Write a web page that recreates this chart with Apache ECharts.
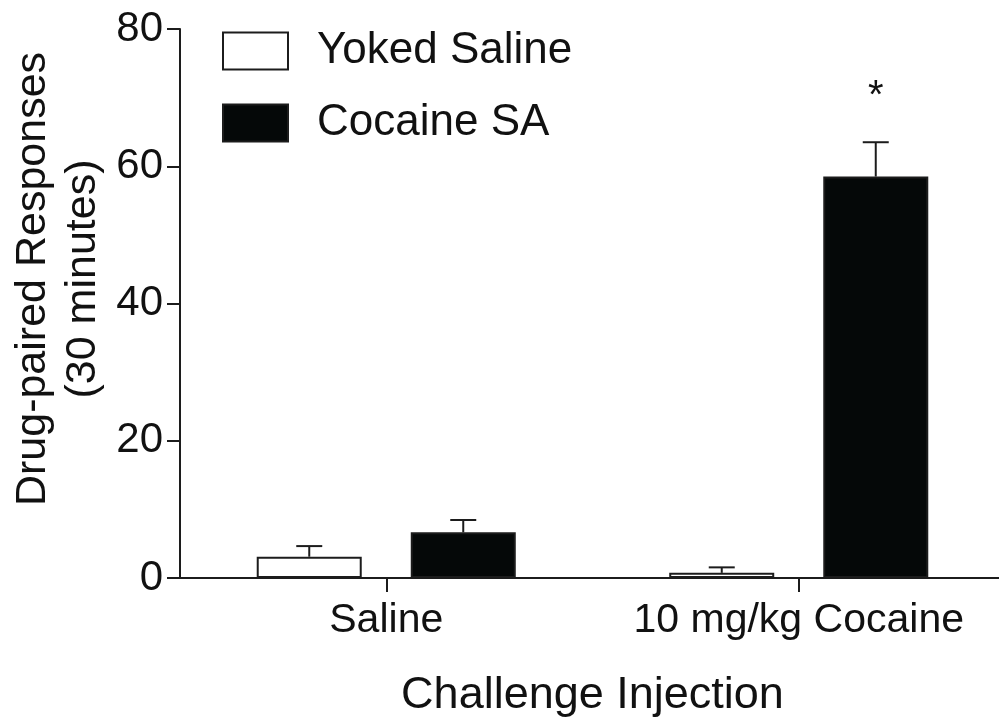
<!DOCTYPE html>
<html>
<head>
<meta charset="utf-8">
<script src="https://cdn.jsdelivr.net/npm/echarts@6/dist/echarts.min.js"></script>
<style>html,body{margin:0;padding:0;background:#fff}#c{width:999px;height:717px}</style>
</head>
<body>
<div id="c"></div>
<script>
// ---- data ----
var categories = ['Saline', '10 mg/kg Cocaine'];
var seriesNames = ['Yoked Saline', 'Cocaine SA'];
var yokedMeans = [3.1, 0.75];
var yokedSEM = [1.55, 0.8];
var cocaineMeans = [6.65, 58.5];
var cocaineSEM = [1.8, 5.0];
var significance = ['', '*'];
var yTicks = [0, 20, 40, 60, 80];

// ---- style constants ----
var FONT = '"Liberation Sans", Arial, Helvetica, sans-serif';
var INK = '#111111';
var LINE = '#1c1c1c';
var BAR_W = 105;
var BAR_GAP = 49;
var CAP_W = 26;

var chart = echarts.init(document.getElementById('c'), null, {renderer: 'canvas'});

function errorSeries(name, means, sems, sign, marks) {
  return {
    type: 'custom',
    name: name + ' SEM',
    z: 5,
    silent: true,
    data: means.map(function (m, i) { return [i, m, sems[i]]; }),
    renderItem: function (params, api) {
      var idx = api.value(0);
      var mean = api.value(1);
      var sem = api.value(2);
      var base = api.coord([idx, mean]);
      var top = api.coord([idx, mean + sem]);
      var off = sign * (BAR_W + BAR_GAP) / 2;
      var x = base[0] + off;
      var children = [
        {type: 'line', shape: {x1: x, y1: base[1], x2: x, y2: top[1]}, style: {stroke: LINE, lineWidth: 2}},
        {type: 'line', shape: {x1: x - CAP_W / 2, y1: top[1], x2: x + CAP_W / 2, y2: top[1]}, style: {stroke: LINE, lineWidth: 2}}
      ];
      var mark = marks ? marks[idx] : '';
      if (mark) {
        children.push({
          type: 'text',
          style: {text: mark, x: x, y: top[1] - 45, align: 'center', verticalAlign: 'middle',
                  font: '40px ' + FONT, fill: INK}
        });
      }
      return {type: 'group', children: children};
    }
  };
}

var option = {
  animation: false,
  backgroundColor: '#ffffff',
  grid: {left: 180, right: -6, top: 29, bottom: 139, containLabel: false, outerBoundsMode: 'none'},
  legend: {
    orient: 'vertical',
    left: 217,
    top: 24,
    itemWidth: 65,
    itemHeight: 37,
    itemGap: 28,
    icon: 'rect',
    data: seriesNames,
    textStyle: {fontFamily: FONT, fontSize: 44, color: INK, lineHeight: 37, padding: [0, 0, 0, 24]}
  },
  xAxis: {
    type: 'category',
    data: categories,
    name: 'Challenge Injection',
    nameLocation: 'middle',
    nameGap: 95,
    nameTextStyle: {fontFamily: FONT, fontSize: 45, color: INK},
    axisLine: {lineStyle: {color: LINE, width: 2}},
    axisTick: {show: true, alignWithLabel: true, interval: 0, length: 14, lineStyle: {color: LINE, width: 2}},
    axisLabel: {fontFamily: FONT, fontSize: 41, color: INK, margin: 22, interval: 0, hideOverlap: false}
  },
  yAxis: {
    type: 'value',
    min: yTicks[0],
    max: yTicks[yTicks.length - 1],
    interval: yTicks[1] - yTicks[0],
    splitLine: {show: false},
    axisLine: {show: true, lineStyle: {color: LINE, width: 2}},
    axisTick: {show: true, length: 13, lineStyle: {color: LINE, width: 2}},
    axisLabel: {fontFamily: FONT, fontSize: 42, color: INK, margin: 17}
  },
  graphic: [{
    type: 'text',
    x: 58,
    y: 279,
    rotation: Math.PI / 2,
    style: {
      text: 'Drug-paired Responses\n(30 minutes)',
      font: '43px ' + FONT,
      lineHeight: 50,
      fill: INK,
      align: 'center',
      verticalAlign: 'middle'
    }
  }],
  series: [
    {
      type: 'bar',
      name: seriesNames[0],
      data: yokedMeans,
      barWidth: BAR_W,
      barGap: (BAR_GAP / BAR_W * 100).toFixed(1) + '%',
      itemStyle: {color: '#ffffff', borderColor: LINE, borderWidth: 2}
    },
    {
      type: 'bar',
      name: seriesNames[1],
      data: cocaineMeans,
      barWidth: BAR_W,
      itemStyle: {color: '#050808', borderColor: LINE, borderWidth: 2}
    },
    errorSeries(seriesNames[0], yokedMeans, yokedSEM, -1, null),
    errorSeries(seriesNames[1], cocaineMeans, cocaineSEM, 1, significance)
  ]
};
chart.setOption(option);
</script>
</body>
</html>
